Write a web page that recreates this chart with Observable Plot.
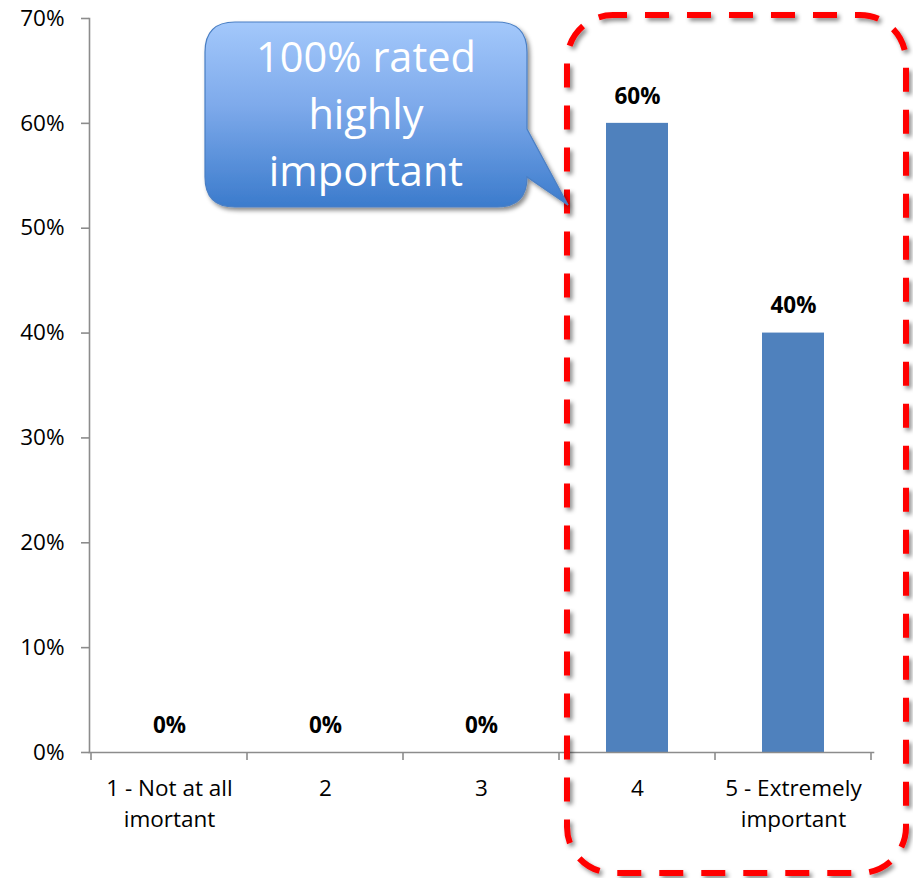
<!DOCTYPE html>
<html><head><meta charset="utf-8">
<script src="https://cdn.jsdelivr.net/npm/d3@7"></script>
<script src="https://cdn.jsdelivr.net/npm/@observablehq/plot@0.6"></script>
<style>body{margin:0;background:#fff}</style>
</head><body><div id="chart"></div>
<script>
const categories = ["1 - Not at all\nimortant", "2", "3", "4", "5 - Extremely\nimportant"];
const values = [0, 0, 0, 0.6, 0.4];
const yTicks = [0, 0.1, 0.2, 0.3, 0.4, 0.5, 0.6, 0.7];
const calloutLines = ["100% rated", "highly", "important"];
const highlighted = ["4", "5 - Extremely\nimportant"];

const data = categories.map((c, i) => ({category: c, value: values[i]}));
const pct = d3.format(".0%");
const W = 913, H = 878;
const axisColor = "#8c8c8c";
const font = "'Open Sans', sans-serif";

const plot = Plot.plot({
  width: W, height: H,
  marginLeft: 89, marginRight: 40, marginTop: 18, marginBottom: 126,
  style: {fontFamily: font, fontSize: "22.5px", color: "#000", background: "#fff", overflow: "visible"},
  x: {domain: categories, paddingInner: 0.6, paddingOuter: 0.3, label: null},
  y: {domain: [0, 0.7], label: null},
  marks: [
    Plot.barY(data, {x: "category", y: "value", fill: "#4F81BD"}),
    Plot.text(data, {x: "category", y: "value", text: d => pct(d.value), dy: -27, fontWeight: "bold", fontSize: 22.5, fill: "#000"}),
    Plot.axisY({ticks: yTicks, tickFormat: pct, tickSize: 8, tickPadding: 17, stroke: axisColor, strokeWidth: 1.6, fill: "#000", fontSize: 22.5, label: null}),
    Plot.axisX({tickSize: 0, tickPadding: 21, lineHeight: 1.4, fill: "#000", fontSize: 22.5, label: null}),
    Plot.frame({anchor: "left", stroke: axisColor, strokeWidth: 1.6}),
    Plot.frame({anchor: "bottom", stroke: axisColor, strokeWidth: 1.6})
  ]
});

document.getElementById("chart").appendChild(plot);

const svg = d3.select(plot);
const xs = plot.scale("x");
const ys = plot.scale("y");
const gap = (xs.step - xs.bandwidth) / 2;
const y0 = ys.apply(0);
const yTop = ys.apply(d3.max(yTicks));
const bounds = categories.map(c => xs.apply(c) - gap).concat([xs.apply(categories[categories.length - 1]) + xs.bandwidth + gap]);

// x-axis boundary ticks
svg.append("g").selectAll("line").data(bounds).join("line")
  .attr("x1", d => d).attr("x2", d => d)
  .attr("y1", y0).attr("y2", y0 + 8)
  .attr("stroke", axisColor).attr("stroke-width", 1.6);

const defs = svg.append("defs");
const f = defs.append("filter").attr("id", "shadow").attr("x", "-10%").attr("y", "-10%").attr("width", "120%").attr("height", "120%");
f.append("feDropShadow").attr("dx", 2.5).attr("dy", 3).attr("stdDeviation", 2.2).attr("flood-color", "#000").attr("flood-opacity", 0.45);

const grad = defs.append("linearGradient").attr("id", "cgrad").attr("x1", 0).attr("y1", 0).attr("x2", 0).attr("y2", 1);
grad.append("stop").attr("offset", "0%").attr("stop-color", "#a3c8fb");
grad.append("stop").attr("offset", "45%").attr("stop-color", "#7eaaeb");
grad.append("stop").attr("offset", "100%").attr("stop-color", "#3b7bcc");

// dashed highlight box around the highlighted categories
const bx0 = xs.apply(highlighted[0]) - gap + 8;
const bx1 = W - 7;
const by0 = yTop - 3;
const by1 = H - 5;
svg.append("rect")
  .attr("x", bx0).attr("y", by0).attr("width", bx1 - bx0).attr("height", by1 - by0)
  .attr("rx", 46).attr("ry", 46)
  .attr("fill", "none").attr("stroke", "#ff0000").attr("stroke-width", 6)
  .attr("stroke-dasharray", "24 18").attr("stroke-dashoffset", 10)
  .attr("filter", "url(#shadow)");

// callout
const cx0 = 205, cx1 = 527, cy0 = 22, cy1 = 207, r = 30;
const tipX = bx0 + 1, tipY = 205;
const path = `M${cx0 + r},${cy0} H${cx1 - r} Q${cx1},${cy0} ${cx1},${cy0 + r} V129 L${tipX},${tipY} L${cx1},177 V${cy1 - r} Q${cx1},${cy1} ${cx1 - r},${cy1} H${cx0 + r} Q${cx0},${cy1} ${cx0},${cy1 - r} V${cy0 + r} Q${cx0},${cy0} ${cx0 + r},${cy0} Z`;
svg.append("path").attr("d", path)
  .attr("fill", "url(#cgrad)").attr("stroke", "#4a7fc4").attr("stroke-width", 1.2)
  .attr("filter", "url(#shadow)");
svg.append("text")
  .attr("x", (cx0 + cx1) / 2).attr("y", 72)
  .attr("text-anchor", "middle").attr("fill", "#fff")
  .attr("font-family", font).attr("font-size", 41.5)
  .selectAll("tspan").data(calloutLines).join("tspan")
  .attr("x", (cx0 + cx1) / 2).attr("dy", (d, i) => i === 0 ? 0 : 57)
  .text(d => d);
</script>
</body></html>
